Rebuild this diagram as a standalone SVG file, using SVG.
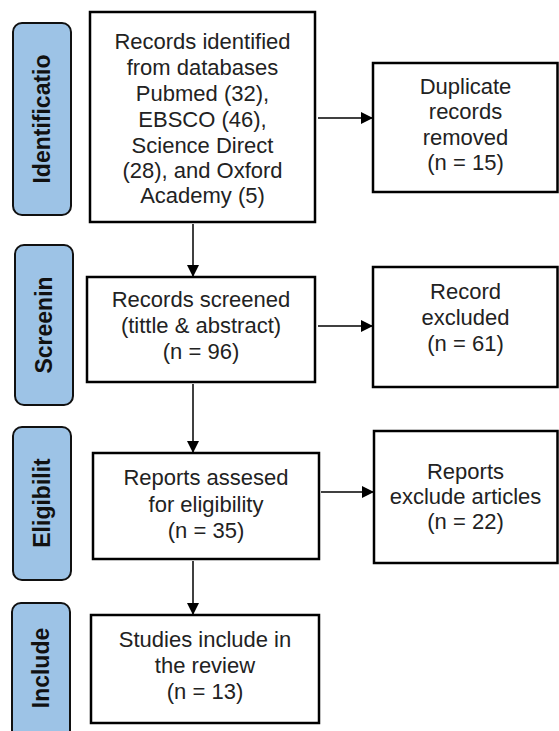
<svg xmlns="http://www.w3.org/2000/svg" width="559" height="731" viewBox="0 0 559 731">
<style>
.bg{fill:#fff}
.box{fill:#fff;stroke:#000;stroke-width:2.5}
.lab{fill:#9dc3e6;stroke:#111;stroke-width:2}
.t{font-family:"Liberation Sans",Arial,sans-serif;font-size:22px;fill:#222;text-anchor:middle}
.v{font-family:"Liberation Sans",Arial,sans-serif;font-size:23px;font-weight:bold;fill:#111;text-anchor:middle;dominant-baseline:central}
.c{stroke:#000;stroke-width:1.5;fill:none}
</style>
<defs>
<marker id="ah" markerWidth="12" markerHeight="12" refX="11" refY="6" orient="auto" markerUnits="userSpaceOnUse">
<path d="M0,0 L12,6 L0,12 Z" fill="#000"/>
</marker>
</defs>
<rect class="bg" x="0" y="0" width="559" height="731"/>
<g id="label-identification">
<rect class="lab" x="13" y="23" width="58" height="192" rx="9"/>
<text class="v" transform="translate(42,119) rotate(-90)">Identificatio</text>
</g>
<g id="label-screening">
<rect class="lab" x="15" y="245" width="58" height="160" rx="9"/>
<text class="v" transform="translate(44,325) rotate(-90)">Screenin</text>
</g>
<g id="label-eligibility">
<rect class="lab" x="13" y="427" width="58" height="153" rx="9"/>
<text class="v" transform="translate(42,503) rotate(-90)">Eligibilit</text>
</g>
<g id="label-include">
<rect class="lab" x="12" y="603" width="58" height="150" rx="9"/>
<text class="v" transform="translate(41,668) rotate(-90)">Include</text>
</g>
<g id="n-identified">
<rect class="box" x="90" y="12" width="225" height="210"/>
<text class="t" x="202.5" y="49">Records identified</text>
<text class="t" x="202.5" y="75">from databases</text>
<text class="t" x="202.5" y="101">Pubmed (32),</text>
<text class="t" x="202.5" y="127">EBSCO (46),</text>
<text class="t" x="202.5" y="153">Science Direct</text>
<text class="t" x="202.5" y="178">(28), and Oxford</text>
<text class="t" x="202.5" y="203">Academy (5)</text>
</g>
<g id="n-duplicates">
<rect class="box" x="373" y="63" width="184.5" height="129"/>
<text class="t" x="465.5" y="94">Duplicate</text>
<text class="t" x="465.5" y="119">records</text>
<text class="t" x="465.5" y="145">removed</text>
<text class="t" x="465.5" y="170">(n = 15)</text>
</g>
<g id="n-screened">
<rect class="box" x="87" y="277" width="228" height="105"/>
<text class="t" x="201" y="307">Records screened</text>
<text class="t" x="201" y="333">(tittle &amp; abstract)</text>
<text class="t" x="201" y="359">(n = 96)</text>
</g>
<g id="n-excluded">
<rect class="box" x="373" y="267" width="184.5" height="120"/>
<text class="t" x="465.5" y="299">Record</text>
<text class="t" x="465.5" y="325">excluded</text>
<text class="t" x="465.5" y="351">(n = 61)</text>
</g>
<g id="n-assessed">
<rect class="box" x="93" y="453" width="226" height="106"/>
<text class="t" x="206" y="485">Reports assesed</text>
<text class="t" x="206" y="512">for eligibility</text>
<text class="t" x="206" y="538">(n = 35)</text>
</g>
<g id="n-reports-excluded">
<rect class="box" x="374" y="431" width="183.5" height="132"/>
<text class="t" x="465.5" y="479">Reports</text>
<text class="t" x="465.5" y="504">exclude articles</text>
<text class="t" x="465.5" y="529">(n = 22)</text>
</g>
<g id="n-included">
<rect class="box" x="91" y="615" width="228" height="108"/>
<text class="t" x="205" y="647">Studies include in</text>
<text class="t" x="205" y="673">the review</text>
<text class="t" x="205" y="699">(n = 13)</text>
</g>
<g id="connectors">
<line class="c" x1="318" y1="118" x2="372" y2="118" marker-end="url(#ah)"/>
<line class="c" x1="193" y1="224" x2="193" y2="276" marker-end="url(#ah)"/>
<line class="c" x1="318" y1="326" x2="372" y2="326" marker-end="url(#ah)"/>
<line class="c" x1="193" y1="384" x2="193" y2="452" marker-end="url(#ah)"/>
<line class="c" x1="321" y1="492" x2="373" y2="492" marker-end="url(#ah)"/>
<line class="c" x1="193" y1="561" x2="193" y2="614" marker-end="url(#ah)"/>
</g>
</svg>
